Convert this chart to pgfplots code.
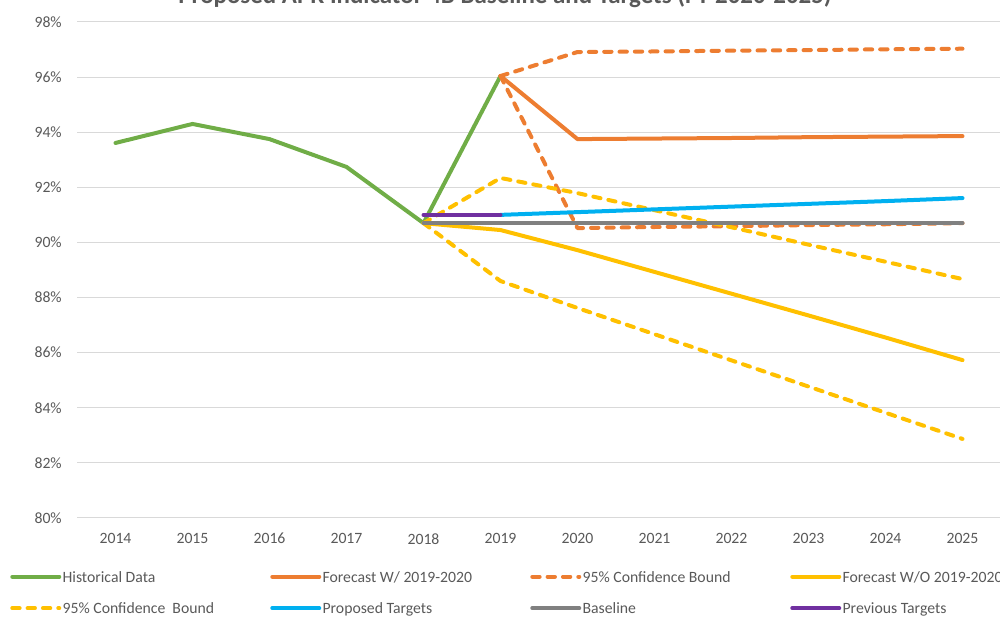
\documentclass[border=0pt]{standalone}
\usepackage{pgfplots}
\pgfplotsset{compat=1.18}
\usepackage{fontspec}
\setmainfont{Carlito}
\definecolor{cgreen}{HTML}{70AD47}
\definecolor{corange}{HTML}{ED7D31}
\definecolor{cyellow}{HTML}{FFC000}
\definecolor{cblue}{HTML}{00B0F0}
\definecolor{cgray}{HTML}{808080}
\definecolor{cpurple}{HTML}{7030A0}
\definecolor{cgrid}{HTML}{D9D9D9}
\definecolor{ctext}{HTML}{595959}
\newcommand{\lw}[1]{\makebox[154.75pt][l]{\strut #1}}
\begin{document}
\begin{tikzpicture}
\path[use as bounding box] (0pt,0pt) rectangle (750pt,462.75pt);
\node[anchor=base, font=\fontsize{18.7}{22}\selectfont\bfseries, text=ctext, inner sep=0pt] at (378.75pt,459.75pt) {Proposed APR Indicator 4B Baseline and Targets (FY 2020-2025)};
\begin{axis}[
  at={(57.75pt,74.25pt)}, anchor=south west,
  scale only axis, width=693pt, height=372pt,
  xmin=2013.5, xmax=2025.5, ymin=80, ymax=98,
  xtick={2014,2015,...,2025}, ytick={80,82,...,98},
  ymajorgrids, grid style={line width=0.75pt, color=cgrid},
  axis line style={draw=none}, major tick length=0pt,
  tick label style={font=\fontsize{11.8}{14}\selectfont, text=ctext, inner sep=0pt},
  /pgf/number format/assume math mode=true,
  xticklabel style={/pgf/number format/1000 sep={}, yshift=-11.25pt},
  yticklabel style={xshift=-11.25pt},
  yticklabel={\pgfmathprintnumber{\tick}\%},
  every axis plot/.append style={line width=3pt, line cap=round, line join=round},
  legend columns=4,
  legend cell align=left,
  legend image code/.code={\draw[#1] (0pt,0pt) -- (35.25pt,0pt);},
  legend style={draw=none, fill=none, inner sep=0pt, column sep=1pt, row sep=12.25pt,
    font=\fontsize{11.8}{14}\selectfont, text=ctext,
    nodes={inner sep=0pt},
    at={(-0.0725,-0.1027)}, anchor=north west},
]
\addplot[cgreen] coordinates {(2014,93.61)(2015,94.30)(2016,93.75)(2017,92.74)(2018,90.70)(2019,96.04)};
\addlegendentry{\lw{Historical Data}}
\addplot[corange] coordinates {(2019,96.04)(2020,93.75)(2021,93.77)(2022,93.79)(2023,93.82)(2024,93.84)(2025,93.86)};
\addlegendentry{\lw{Forecast W/ 2019-2020}}
\addplot[corange, dash pattern=on 5.5pt off 6pt] coordinates {(2019,96.04)(2020,96.91)(2021,96.93)(2022,96.96)(2023,96.98)(2024,97.01)(2025,97.03)};
\addlegendentry{\lw{95\% Confidence Bound}}
\addplot[corange, dash pattern=on 5.5pt off 6pt, forget plot] coordinates {(2019,96.04)(2020,90.52)(2021,90.56)(2022,90.59)(2023,90.63)(2024,90.66)(2025,90.70)};
\addplot[cyellow] coordinates {(2018,90.70)(2019,90.45)(2020,89.72)(2021,88.93)(2022,88.14)(2023,87.35)(2024,86.55)(2025,85.73)};
\addlegendentry{\lw{Forecast W/O 2019-2020}}
\addplot[cyellow, dash pattern=on 5.5pt off 6pt] coordinates {(2018,90.70)(2019,92.34)(2020,91.79)(2021,91.17)(2022,90.55)(2023,89.92)(2024,89.30)(2025,88.67)};
\addlegendentry{\lw{95\% Confidence\ \ Bound}}
\addplot[cyellow, dash pattern=on 5.5pt off 6pt, forget plot] coordinates {(2018,90.70)(2019,88.60)(2020,87.62)(2021,86.67)(2022,85.72)(2023,84.77)(2024,83.82)(2025,82.87)};
\addplot[cblue] coordinates {(2019,91.00)(2020,91.10)(2021,91.20)(2022,91.30)(2023,91.40)(2024,91.50)(2025,91.61)};
\addlegendentry{\lw{Proposed Targets}}
\addplot[cgray] coordinates {(2018,90.70)(2019,90.70)(2020,90.70)(2021,90.70)(2022,90.70)(2023,90.70)(2024,90.70)(2025,90.70)};
\addlegendentry{\lw{Baseline}}
\addplot[cpurple] coordinates {(2018,91.00)(2019,91.00)};
\addlegendentry{\lw{Previous Targets}}
\end{axis}
\end{tikzpicture}
\end{document}
